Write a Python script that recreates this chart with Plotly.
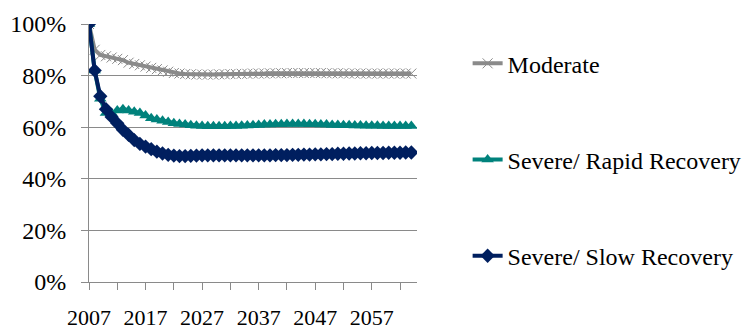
import plotly.graph_objects as go

# Annual index (share of 2007 level) under three scenarios, 2007-2064
years = list(range(2007, 2065))

moderate = [
    100, 90, 88, 87.5, 87, 86.5, 86, 85, 84.5, 84,
    83.5, 83, 82.5, 82, 81.5, 81, 80.8, 80.6, 80.5, 80.4,
    80.4, 80.4, 80.4, 80.5, 80.5, 80.6, 80.6, 80.7, 80.7, 80.8,
    80.8, 80.8, 80.9, 80.9, 80.9, 81, 81, 81, 81, 81,
    81, 81, 80.9, 80.9, 80.9, 80.9, 80.8, 80.8, 80.8, 80.8,
    80.8, 80.8, 80.8, 80.8, 80.8, 80.8, 80.8, 80.8,
]

rapid = [
    100, 82, 71, 65.5, 65.5, 66.5, 67, 66.5, 66, 65.5,
    64.5, 63.5, 63, 62.5, 62, 61.5, 61.2, 61, 60.8, 60.6,
    60.5, 60.4, 60.4, 60.4, 60.4, 60.5, 60.5, 60.6, 60.7, 60.8,
    60.9, 61, 61, 61.1, 61.1, 61.2, 61.2, 61.2, 61.2, 61.1,
    61.1, 61, 61, 60.9, 60.9, 60.8, 60.8, 60.7, 60.7, 60.6,
    60.6, 60.6, 60.5, 60.5, 60.5, 60.5, 60.5, 60.5,
]

slow = [
    100, 82, 72, 67, 64, 61.5, 59, 57, 55, 53.5,
    52.5, 51.5, 50.5, 49.8, 49.3, 49, 48.8, 48.8, 48.9, 49,
    49.1, 49.1, 49.1, 49.1, 49.1, 49.1, 49.1, 49.1, 49.1, 49.1,
    49.1, 49.1, 49.1, 49.2, 49.2, 49.2, 49.3, 49.3, 49.4, 49.4,
    49.5, 49.5, 49.6, 49.6, 49.7, 49.7, 49.8, 49.8, 49.9, 49.9,
    50, 50, 50, 50.1, 50.1, 50.1, 50.2, 50.2,
]

series_names = ["Moderate", "Severe/ Rapid Recovery", "Severe/ Slow Recovery"]
y_ticks = [0, 0.2, 0.4, 0.6, 0.8, 1.0]
x_tick_years = list(range(2007, 2065, 5))
x_tick_text = [str(y) if (y - 2007) % 10 == 0 else "" for y in x_tick_years]

GRAY = "#8a8a8a"
TEAL = "#00827c"
NAVY = "#001f5f"
FONT = "Times New Roman, Liberation Serif, serif"

fig = go.Figure()

fig.add_trace(go.Scatter(
    x=years, y=[v / 100 for v in moderate], name=series_names[0],
    mode="lines+markers", legendgroup="a",
    line=dict(color=GRAY, width=4),
    marker=dict(symbol="x-thin", size=10, line=dict(color=GRAY, width=1), color=GRAY),
))
fig.add_trace(go.Scatter(
    x=years, y=[v / 100 for v in rapid], name=series_names[1],
    mode="lines+markers", legendgroup="b",
    line=dict(color=TEAL, width=4),
    marker=dict(symbol="triangle-up", size=11, color=TEAL),
))
fig.add_trace(go.Scatter(
    x=years, y=[v / 100 for v in slow], name=series_names[2],
    mode="lines+markers", legendgroup="c",
    line=dict(color=NAVY, width=4),
    marker=dict(symbol="diamond", size=11, color=NAVY),
))

fig.update_layout(
    width=747, height=330,
    margin=dict(l=89, r=330, t=24, b=48),
    paper_bgcolor="white", plot_bgcolor="white",
    font=dict(family=FONT, color="black"),
    showlegend=True,
    legend=dict(
        xref="container", yref="container",
        x=0.626, y=0.875, xanchor="left", yanchor="top",
        font=dict(family=FONT, size=24, color="black"),
        tracegroupgap=62, traceorder="grouped",
        bgcolor="rgba(0,0,0,0)", maxheight=330,
    ),
)

fig.update_xaxes(
    range=[2007, 2065], automargin=False,
    tickmode="array", tickvals=x_tick_years, ticktext=x_tick_text,
    ticks="outside", ticklen=7, tickcolor=GRAY, tickwidth=1,
    showline=True, linecolor=GRAY, linewidth=1,
    showgrid=False, zeroline=False,
    tickfont=dict(family=FONT, size=22, color="black"),
    ticklabelstandoff=9,
)
fig.update_yaxes(
    range=[0, 1.0], automargin=False,
    tickmode="array", tickvals=y_ticks, tickformat=".0%",
    ticks="outside", ticklen=7, tickcolor=GRAY, tickwidth=1,
    showline=True, linecolor=GRAY, linewidth=1,
    showgrid=True, gridcolor=GRAY, gridwidth=1,
    zeroline=False,
    tickfont=dict(family=FONT, size=24, color="black"),
    ticklabelstandoff=10,
)

fig.write_html("out.html")
